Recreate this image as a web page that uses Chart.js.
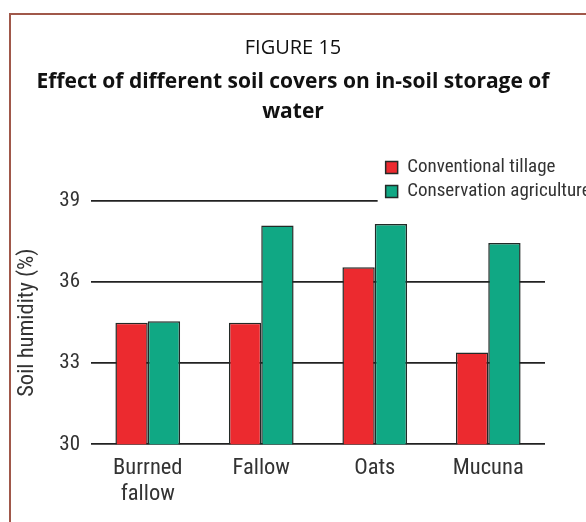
<!DOCTYPE html>
<html>
<head>
<meta charset="utf-8">
<script src="https://cdn.jsdelivr.net/npm/chart.js@4/dist/chart.umd.min.js"></script>
<style>
  html, body { margin: 0; padding: 0; background: #fff; overflow: hidden; }
  body { width: 586px; height: 522px; position: relative; }
  #frame {
    position: absolute; left: 9px; top: 13px; width: 600px; height: 600px;
    border-left: 2px solid #a0584a; border-top: 2px solid #a0584a;
  }
  #chart { position: absolute; left: 0; top: 0; }
</style>
</head>
<body>
<div id="frame"></div>
<canvas id="chart" width="586" height="522"></canvas>
<script>
'use strict';

// ── Data ──────────────────────────────────────────────────────
const categories   = [['Burrned', 'fallow'], 'Fallow', 'Oats', 'Mucuna'];
const conventional = [34.5, 34.5, 36.55, 33.4];
const conservation = [34.55, 38.1, 38.15, 37.45];
const yTicks       = [30, 33, 36, 39];

const titleFont = "'Open Sans', 'Noto Sans', sans-serif";
const narrow    = "Roboto, 'Liberation Sans', sans-serif";
const cond      = 'normal condensed';   // font-stretch goes into the weight slot

// ── Legend: two stacked rows, tucked into the top right ───────
const legendPlacement = {
  id: 'legendPlacement',
  afterLayout(chart) {
    const lg = chart.legend;
    const area = chart.chartArea;
    lg.left = area.left + (area.right - area.left) * 0.638;
    lg.right = chart.width + 20;
    lg.top = area.top - 48;
    lg.bottom = area.top + 14;
  },
  beforeDatasetsDraw(chart) {
    // white backdrop so the top gridline stops short of the legend,
    // then the legend again on top of it
    const { ctx, legend } = chart;
    const left = legend.left - 3;
    ctx.save();
    ctx.fillStyle = '#fff';
    ctx.fillRect(left, legend.top, chart.width - left, legend.bottom - legend.top);
    ctx.restore();
    legend.draw();
  }
};

new Chart(document.getElementById('chart'), {
  type: 'bar',
  data: {
    labels: categories,
    datasets: [
      {
        label: 'Conventional tillage',
        data: conventional,
        backgroundColor: '#ec2a2f',
        borderColor: '#222a27',
        borderWidth: 1.5
      },
      {
        label: 'Conservation agriculture',
        data: conservation,
        backgroundColor: '#10a884',
        borderColor: '#222a27',
        borderWidth: 1.5
      }
    ]
  },
  options: {
    responsive: false,
    animation: false,
    layout: { padding: { left: 0, right: 0, top: 36, bottom: 12 } },
    datasets: { bar: { categoryPercentage: 0.57, barPercentage: 1 } },
    plugins: {
      title: {
        display: true,
        text: 'FIGURE 15',
        color: '#111',
        font: { family: titleFont, size: 20, weight: 'normal' },
        padding: { top: 0, bottom: 7 }
      },
      subtitle: {
        display: true,
        text: ['Effect of different soil covers on in-soil storage of', 'water'],
        color: '#111',
        font: { family: titleFont, size: 21, weight: 'bold', lineHeight: 1.43 },
        padding: { top: 0, bottom: 40 }
      },
      legend: {
        position: 'top',
        align: 'start',
        labels: {
          color: '#333',
          font: { family: narrow, size: 19, weight: cond },
          boxWidth: 12,
          boxHeight: 12,
          padding: 5,
          useBorderRadius: false
        },
        onClick: null
      },
      tooltip: { enabled: false }
    },
    scales: {
      x: {
        grid: { display: false },
        border: { display: false },
        ticks: {
          color: '#333',
          font: { family: narrow, size: 22.5, lineHeight: 1.15, weight: cond },
          padding: 3,
          maxRotation: 0
        }
      },
      y: {
        min: yTicks[0],
        max: yTicks[yTicks.length - 1],
        afterBuildTicks: axis => { axis.ticks = yTicks.map(v => ({ value: v })); },
        afterFit: axis => { axis.width = 91; },
        grid: { color: '#222', lineWidth: 1.8, drawTicks: false },
        border: { display: false },
        ticks: {
          color: '#333',
          font: { family: narrow, size: 21, weight: cond },
          padding: 11
        },
        title: {
          display: true,
          text: 'Soil humidity (%)',
          color: '#333',
          font: { family: narrow, size: 22.5, weight: cond },
          padding: { top: 14, bottom: 0 }
        }
      },
      yRight: {
        position: 'right',
        display: true,
        grid: { display: false },
        border: { display: false },
        ticks: { display: false },
        afterFit: axis => { axis.width = 41; }
      }
    }
  },
  plugins: [legendPlacement]
});
</script>
</body>
</html>
